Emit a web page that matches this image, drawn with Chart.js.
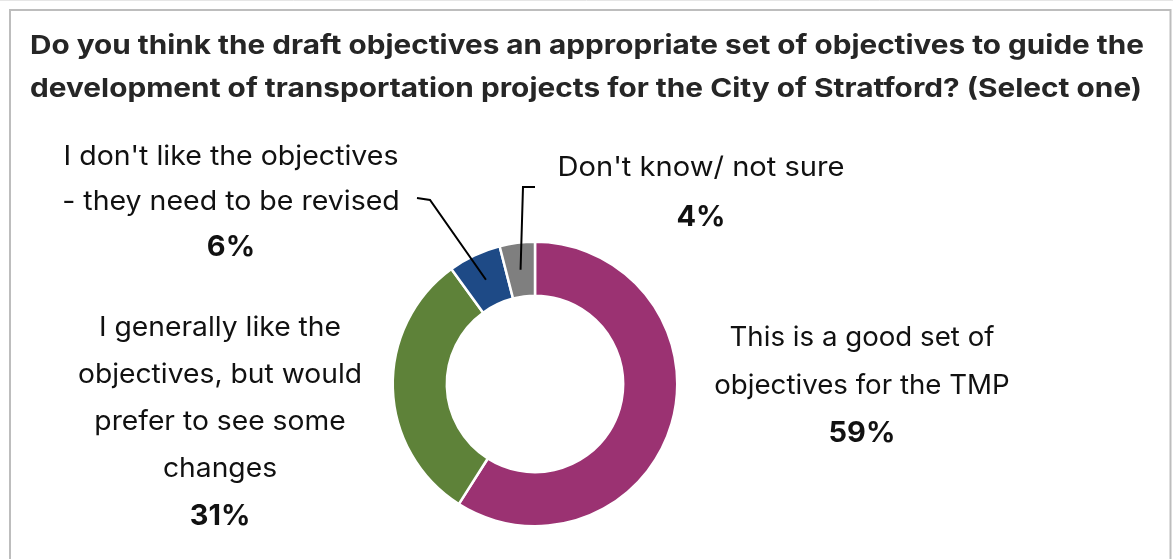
<!DOCTYPE html>
<html>
<head>
<meta charset="utf-8">
<script src="https://cdn.jsdelivr.net/npm/chart.js@4/dist/chart.umd.min.js"></script>
<style>
  html, body { margin: 0; padding: 0; background: #ffffff; }
  #wrap { width: 1173px; height: 559px; position: relative; }
</style>
</head>
<body>
<div id="wrap"><canvas id="c" width="1173" height="559"></canvas></div>
<script>
// ---- data ----
const titleLines = [
  "Do you think the draft objectives an appropriate set of objectives to guide the",
  "development of transportation projects for the City of Stratford? (Select one)"
];
const categories = [
  "This is a good set of objectives for the TMP",
  "I generally like the objectives, but would prefer to see some changes",
  "I don't like the objectives - they need to be revised",
  "Don't know/ not sure"
];
const labelLines = [
  ["This is a good set of", "objectives for the TMP"],
  ["I generally like the", "objectives, but would", "prefer to see some", "changes"],
  ["I don't like the objectives", "- they need to be revised"],
  ["Don't know/ not sure"]
];
const values = [59, 31, 6, 4];
const colors = ["#9B3272", "#5E8239", "#1E4A86", "#7F7F7F"];

// ---- layout (positions / styles only) ----
const labelPos = [
  { x: 862, y: 338, lh: 47.5, w1: 265 },
  { x: 220, y: 328, lh: 47, w1: 242 },
  { x: 231, y: 157, lh: 45, w1: 335 },
  { x: 701, y: 168, lh: 49, w1: 287 }
];
const leaders = {
  2: { elbow: [430, 200], end: [417, 198] },
  3: { elbow: [523, 187], end: [535, 187] }
};

function drawScaled(ctx, text, x, y, sx) {
  ctx.save();
  ctx.translate(x, y);
  ctx.scale(sx, 1);
  ctx.fillText(text, 0, 0);
  ctx.restore();
}

const textPlugin = {
  id: 'textPlugin',
  afterDraw(chart) {
    const ctx = chart.ctx;
    ctx.save();
    // frame
    ctx.strokeStyle = '#BDBDBD';
    ctx.lineWidth = 2;
    ctx.beginPath();
    ctx.moveTo(10, 559);
    ctx.lineTo(10, 10);
    ctx.lineTo(1170.5, 10);
    ctx.lineTo(1170.5, 559);
    ctx.stroke();
    ctx.strokeStyle = '#E6E6E6';
    ctx.lineWidth = 1;
    ctx.beginPath();
    ctx.moveTo(0, 0.5); ctx.lineTo(1173, 0.5);
    ctx.stroke();

    // title
    ctx.fillStyle = '#262626';
    ctx.textBaseline = 'middle';
    ctx.textAlign = 'left';
    ctx.font = 'bold 26px Inter, "Liberation Sans", Arial, sans-serif';
    const tw0 = ctx.measureText(titleLines[0]).width;
    const tw1 = ctx.measureText(titleLines[1]).width;
    drawScaled(ctx, titleLines[0], 30, 46, 1114 / tw0);
    drawScaled(ctx, titleLines[1], 30, 89, 1112 / tw1);

    // labels
    const meta = chart.getDatasetMeta(0);
    const total = values.reduce((a, b) => a + b, 0);
    labelLines.forEach((lines, i) => {
      const p = labelPos[i];
      ctx.textAlign = 'center';
      ctx.fillStyle = '#111111';
      ctx.font = '27px Inter, "Liberation Sans", sans-serif';
      const sx = p.w1 / ctx.measureText(lines[0]).width;
      lines.forEach((ln, k) => {
        drawScaled(ctx, ln, p.x, p.y + k * p.lh, sx);
      });
      ctx.font = 'bold 29px Inter, "Liberation Sans", sans-serif';
      const pct = Math.round(values[i] / total * 100) + '%';
      drawScaled(ctx, pct, p.x, p.y + lines.length * p.lh, 1.0);
    });

    // leader lines from arc geometry
    ctx.strokeStyle = '#000000';
    ctx.lineWidth = 2;
    Object.keys(leaders).forEach(key => {
      const i = +key;
      const el = meta.data[i];
      const a = (el.startAngle + el.endAngle) / 2;
      const r = (el.innerRadius + el.outerRadius) / 2;
      const ax = el.x + Math.cos(a) * r;
      const ay = el.y + Math.sin(a) * r;
      const L = leaders[i];
      ctx.beginPath();
      ctx.moveTo(ax, ay);
      ctx.lineTo(L.elbow[0], L.elbow[1]);
      ctx.lineTo(L.end[0], L.end[1]);
      ctx.stroke();
    });
    ctx.restore();
  }
};

new Chart(document.getElementById('c'), {
  type: 'doughnut',
  data: {
    labels: categories,
    datasets: [{
      data: values,
      backgroundColor: colors,
      borderColor: '#ffffff',
      borderWidth: 2.5,
      hoverOffset: 0
    }]
  },
  options: {
    responsive: false,
    animation: false,
    devicePixelRatio: 1,
    cutout: '62%',
    layout: { padding: { left: 391.5, right: 494.5, top: 240.5, bottom: 31.5 } },
    plugins: {
      legend: { display: false },
      tooltip: { enabled: false },
      title: { display: false }
    }
  },
  plugins: [textPlugin]
});
</script>
</body>
</html>
